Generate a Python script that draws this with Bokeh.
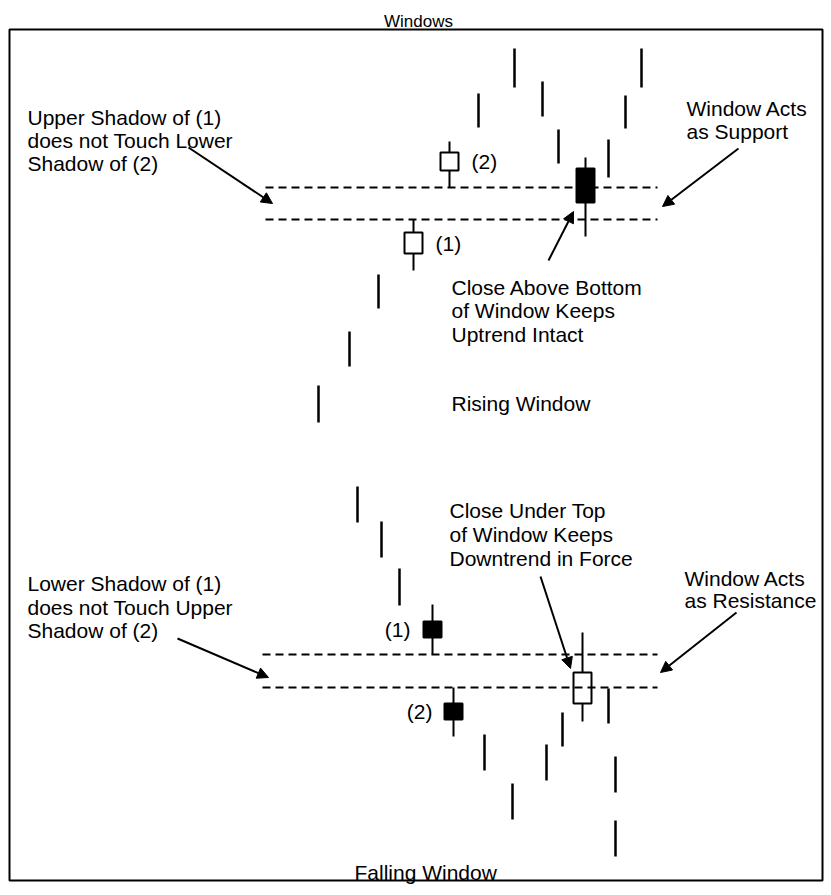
from bokeh.plotting import figure
from bokeh.models import Range1d, Arrow, NormalHead, BoxAnnotation
from bokeh.core.properties import value
from bokeh.embed import file_html
from bokeh.resources import INLINE

FONT = "Liberation Sans"

# ---------------- data (price units) ----------------
# Rising window: plain high-low bars
up_bar_x = [318, 349, 378, 478, 514, 542, 558, 608, 625, 641]
up_bar_high = [510, 564, 621, 802, 847, 814, 766, 756, 800, 847]
up_bar_low = [473, 529, 587, 768, 808, 779, 732, 718, 767, 808]
# Rising window: candles (1), (2), test candle
up_c_x = [413, 449, 585]
up_c_open = [642, 725, 727]
up_c_close = [663, 743, 693]
up_c_high = [676, 754, 738]
up_c_low = [625, 708, 659]
up_c_label = ["(1)", "(2)", ""]

# Falling window: plain high-low bars
dn_bar_x = [357, 381, 399, 484, 512, 546, 562, 608, 615, 615]
dn_bar_high = [409, 374, 327, 161, 112, 151, 183, 207, 139, 75]
dn_bar_low = [373, 338, 290, 125, 76, 115, 149, 172, 103, 39]
# Falling window: candles (1), (2), test candle
dn_c_x = [432, 453, 582]
dn_c_open = [274, 192, 192]
dn_c_close = [258, 176, 223]
dn_c_high = [291, 208, 263]
dn_c_low = [241, 159, 174]
dn_c_label = ["(1)", "(2)", ""]

# window edges from the candles
up_win_top = up_c_low[1]
up_win_bot = up_c_high[0]
dn_win_top = dn_c_low[0]
dn_win_bot = dn_c_high[1]

title = "Windows"
txt_up_left = ["Upper Shadow of (1)", "does not Touch Lower", "Shadow of (2)"]
txt_up_right = ["Window Acts", "as Support"]
txt_up_mid = ["Close Above Bottom", "of Window Keeps", "Uptrend Intact"]
txt_rising = "Rising Window"
txt_dn_mid = ["Close Under Top", "of Window Keeps", "Downtrend in Force"]
txt_dn_left = ["Lower Shadow of (1)", "does not Touch Upper", "Shadow of (2)"]
txt_dn_right = ["Window Acts", "as Resistance"]
txt_falling = "Falling Window"

# ---------------- figure ----------------
p = figure(width=828, height=892, x_range=Range1d(0, 828), y_range=Range1d(3, 895),
           output_backend="svg", toolbar_location=None, min_border=0)
p.axis.visible = False
p.grid.visible = False
p.outline_line_color = None
p.background_fill_color = "white"
p.border_fill_color = "white"

# frame
p.add_layout(BoxAnnotation(left=9, right=822, top=866, bottom=15, fill_alpha=0,
                           line_color="black", line_alpha=1, line_width=2))

# plain bars
p.segment(up_bar_x, up_bar_high, up_bar_x, up_bar_low, line_color="black", line_width=2.5)
p.segment(dn_bar_x, dn_bar_high, dn_bar_x, dn_bar_low, line_color="black", line_width=2.5)


def candles(xs, o, c, h, l):
    p.segment(xs, h, xs, l, line_color="black", line_width=2)
    tops = [max(a, b) for a, b in zip(o, c)]
    bots = [min(a, b) for a, b in zip(o, c)]
    fills = ["white" if cc > oo else "black" for oo, cc in zip(o, c)]
    p.vbar(x=xs, width=18, top=tops, bottom=bots, fill_color=fills,
           line_color="black", line_width=2)


candles(up_c_x, up_c_open, up_c_close, up_c_high, up_c_low)
candles(dn_c_x, dn_c_open, dn_c_close, dn_c_high, dn_c_low)

# window dashed lines
for yv in (up_win_top, up_win_bot):
    p.line([265, 657], [yv, yv], line_color="black", line_width=2, line_dash="8 5")
for yv in (dn_win_top, dn_win_bot):
    p.line([262, 657], [yv, yv], line_color="black", line_width=2, line_dash="8 5")

FS = "21px"


def lines(x, ys, texts, align="left", size=FS, baseline="alphabetic"):
    p.text(x=[x] * len(texts), y=ys, text=texts, text_font=value(FONT),
           text_font_size=value(size), text_align=align, text_baseline=baseline,
           text_color="black")


lines(418, [874], [title], align="center", size="17px")
lines(27, [778, 755, 732], txt_up_left)
lines(686, [787, 764], txt_up_right)
lines(451, [608, 585, 561], txt_up_mid)
lines(451, [492], [txt_rising])
lines(449, [385, 361, 337], txt_dn_mid)
lines(27, [312, 288, 265], txt_dn_left)
lines(684, [317, 295], txt_dn_right)
lines(354, [23], [txt_falling])

# candle labels
p.text(x=[up_c_x[0] + 22, up_c_x[1] + 22], y=[(up_c_open[0] + up_c_close[0]) / 2, (up_c_open[1] + up_c_close[1]) / 2],
       text=up_c_label[:2], text_font=value(FONT), text_font_size=value(FS),
       text_align="left", text_baseline="middle")
p.text(x=[dn_c_x[0] - 22, dn_c_x[1] - 21], y=[(dn_c_open[0] + dn_c_close[0]) / 2, (dn_c_open[1] + dn_c_close[1]) / 2],
       text=dn_c_label[:2], text_font=value(FONT), text_font_size=value(FS),
       text_align="right", text_baseline="middle")

# arrows
arrows = [((188, 748), (272, 692)), ((738, 747), (662, 689)), ((548, 635), (573, 684)),
          ((540, 319), (570, 227)), ((177, 257), (268, 218)), ((736, 283), (660, 223))]
for (xs, ys), (xe, ye) in arrows:
    p.add_layout(Arrow(end=NormalHead(size=11, fill_color="black", line_color="black", line_width=1),
                       x_start=xs, y_start=ys, x_end=xe, y_end=ye,
                       line_color="black", line_width=2))

open("out.html", "w").write(file_html(p, INLINE))
